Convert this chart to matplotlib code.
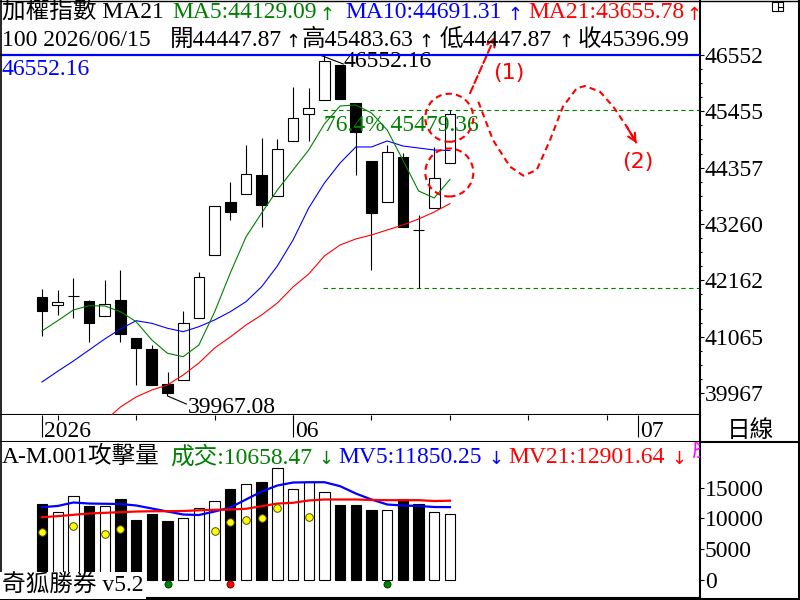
import matplotlib
matplotlib.use('Agg')
import matplotlib.pyplot as plt
from matplotlib.patches import Rectangle, Ellipse
from matplotlib.lines import Line2D

plt.rcParams['font.family'] = ['Liberation Serif', 'Noto Sans CJK TC']

GREEN = '#008000'
BLUE = '#0000ff'
RED = '#ff0000'

# daily candles (27 trading days, last = 2026/06/15)
opens = [41832, 41676, 41850, 41760, 41462, 41779, 41033, 40825, 40143, 40215,
         41429, 42656, 43683, 43838, 44209, 43805, 44877, 45397, 45675, 46351,
         45611, 44487, 43683, 44559, 43143, 43566, 44447.87]
highs = [41994, 41974, 42208, 41780, 42169, 42364, 41033, 40903, 40377, 41565,
         42319, 43611, 44072, 44799, 44929, 44916, 45923, 45903, 46552.16, 46351,
         45611, 44487, 44799, 44643, 43435, 44766, 45483.63]
lows = [41078, 41487, 41435, 40967, 41462, 40967, 40124, 40124, 39967.08, 40215,
        41429, 42656, 43332, 43838, 43207, 43805, 44877, 44877, 45675, 45689,
        44214, 42364, 43683, 43207, 42006.36, 43566, 44447.87]
closes = [41571, 41735, 41857, 41337, 41701, 41123, 40850, 40124, 39974, 41325,
          42222, 43611, 43499, 44228, 43624, 44715, 45319, 45525, 46441, 45689,
          45058, 43480, 44668, 43207, 43140, 44150, 45396.99]

ma5 = [41176, 41376, 41585, 41668, 41663, 41551, 41357, 41000, 40741, 40675,
       40903, 41546, 42305, 43007, 43474, 43922, 44312, 44701, 45208, 45559,
       45578, 45422, 45091, 44507, 43903, 43766, 44129.09]
ma10 = [40182, 40390, 40591, 40805, 41020, 41214, 41376, 41325, 41228, 41162,
        41259, 41390, 41551, 41746, 42038, 42442, 42948, 43572, 44059, 44448,
        44760, 44760, 44877, 44779, 44740, 44701, 44691.31]
ma21 = [38560, 38780, 39000, 39220, 39420, 39695, 39890, 40026, 40124, 40318,
        40552, 40844, 41059, 41292, 41487, 41721, 42033, 42286, 42637, 42851,
        42968, 43046, 43143, 43240, 43357, 43494, 43655.78]

volumes = [12440, 11090, 13750, 12000, 12100, 13100, 9820, 10800, 9660, 10000,
           11740, 12900, 14740, 15560, 15930, 18180, 14740, 16000, 14360, 12280,
           12280, 11300, 11460, 13260, 12440, 11130, 10658.47]
mv5 = [11840, 12040, 12610, 12440, 12400, 12360, 12120, 11630, 11130, 10640,
       10560, 11130, 11790, 13100, 14410, 15390, 15880, 15930, 15930, 15280,
       14080, 13100, 12280, 12120, 12040, 11870, 11850.25]
mv21 = [10200, 10370, 10590, 10810, 10920, 11020, 11130, 11180, 11180, 11220,
        11330, 11410, 11460, 11580, 12000, 12440, 12560, 12940, 13100, 13100,
        13100, 13020, 12990, 12990, 12990, 12850, 12901.64]

attack_idx = [0, 2, 4, 5, 11, 12, 13, 14, 15, 17]
attack_vals = [7750, 8730, 7530, 8240, 8020, 9380, 9820, 10040, 11680, 10270]
buy_idx = [8, 22]
sell_idx = [12]

price_ticks = [46552.16, 45454.65, 44357.13, 43259.62, 42162.11, 41064.59, 39967.08]
price_labels = ['46552', '45455', '44357', '43260', '42162', '41065', '39967']
vol_ticks = [0, 5000, 10000, 15000]

fib_high, fib_low, fib_764 = 46552.16, 42006.36, 45479.36
week_ticks = [1, 6, 11, 16, 21, 26, 31, 36]
month_pos = [0, 16, 38]
month_labels = ['2026', '06', '07']

# forecast sketch (index, price)
path1 = [(27.28, 45806), (28.87, 46908)]
path2 = [(27.81, 45642), (28.74, 44896), (29.83, 44376), (30.68, 44201),
         (31.53, 44312), (32.38, 44896), (33.20, 45545), (34.08, 45903),
         (34.61, 45948), (35.56, 45837), (36.41, 45545), (37.27, 45155),
         (37.90, 44832)]

W, H = 800, 600
FS = 17


def box(x0, y0, x1, y1):
    return [x0 / W, 1 - y1 / H, (x1 - x0) / W, (y1 - y0) / H]


def ftext(x, y, s, color='black', **kw):
    fig.text(x / W, 1 - y / H, s, color=color, fontsize=kw.pop('fontsize', FS),
             va=kw.pop('va', 'baseline'), ha=kw.pop('ha', 'left'), **kw)


def farrow(xc, y, s, color='black'):
    # thin full-height arrow like the terminal font, centred at xc
    ftext(xc, y + 1, s, color, fontsize=13, family='DejaVu Sans', ha='center')


def fline(xs, ys, lw=1.5):
    fig.add_artist(Line2D([x / W for x in xs], [1 - y / H for y in ys],
                          color='black', lw=lw, transform=fig.transFigure))


fig = plt.figure(figsize=(8, 6), dpi=100)
ax = fig.add_axes(box(0, 0, 700, 415))
axd = fig.add_axes(box(0, 415, 700, 442))
axv = fig.add_axes(box(0, 442, 700, 598))

xlim = (-2.677, 41.937)
idx = list(range(len(closes)))

# ---- price panel
for i in idx:
    o, h, l, c = opens[i], highs[i], lows[i], closes[i]
    ax.vlines(i, l, h, color='black', lw=0.8, zorder=2)
    fc = 'black' if c < o else 'white'
    ax.add_patch(Rectangle((i - 0.34, min(o, c)), 0.68, abs(c - o),
                           fc=fc, ec='black', lw=0.8, zorder=3))

ax.plot(idx, ma21, color=RED, lw=0.8, zorder=4)
ax.plot(idx, ma10, color=BLUE, lw=0.8, zorder=4)
ax.plot(idx, ma5, color=GREEN, lw=0.8, zorder=4)

ax.axhline(fib_high, color=BLUE, lw=1.6, zorder=5)
ax.hlines([fib_764, fib_low], 17.9, xlim[1], color=GREEN, lw=0.8,
          linestyle=(0, (4, 3)), zorder=1)
ax.text(-2.55, 46162, '46552.16', color=BLUE, fontsize=FS, va='baseline')
ax.text(17.97, 45077, '76.4% 45479.36', color=GREEN, fontsize=FS, va='baseline')
ax.plot([17.7, 19.2], [fib_high, 46377], color='black', lw=0.8)
ax.text(19.22, 46312, '%.2f' % fib_high, fontsize=FS, va='baseline')
ax.plot([8, 8, 9.2], [lows[8], 39909, 39753], color='black', lw=0.8)
ax.text(9.31, 39584, '%.2f' % lows[8], fontsize=FS, va='baseline')

# forecast marks
for cy in (45329, 44263):
    ax.add_patch(Ellipse((25.96, cy), 3.06, 935, fill=False, ec=RED, lw=1.5,
                         linestyle=(0, (3, 2)), zorder=6))
ax.annotate('', xy=path1[1], xytext=path1[0],
            arrowprops=dict(arrowstyle='->', color=RED, lw=1.5, linestyle='--',
                            mutation_scale=14, shrinkA=0, shrinkB=0))
ax.plot([p[0] for p in path2], [p[1] for p in path2], color=RED, lw=1.5,
        linestyle=(0, (3, 2)))
ax.annotate('', xy=path2[-1], xytext=path2[-2],
            arrowprops=dict(arrowstyle='->', color=RED, lw=1.5,
                            mutation_scale=14, shrinkA=0, shrinkB=0))
ax.text(29.76, 46201, '(1)', color=RED, fontsize=16, family='DejaVu Sans',
        ha='center', va='center')
ax.text(37.99, 44468, '(2)', color=RED, fontsize=16, family='DejaVu Sans',
        ha='center', va='center')

ax.set_xlim(*xlim)
ax.set_ylim(39539, 47623)
ax.set_xticks([])
ax.yaxis.tick_right()
ax.set_yticks(price_ticks, price_labels)
ax.set_yticks([price_ticks[0] - k * (price_ticks[0] - price_ticks[1]) / 4
               for k in range(25) if k % 4], minor=True)
ax.tick_params(axis='y', which='major', direction='out', length=3, width=0.8,
               pad=0.5, labelsize=FS)
ax.tick_params(axis='y', which='minor', direction='out', length=1.2, width=0.8)

# ---- date strip
axd.set_xlim(*xlim)
axd.set_ylim(0, 1)
axd.vlines(week_ticks, 0.8, 1, color='black', lw=0.8)
axd.vlines(month_pos, 0.2, 1, color='black', lw=0.8)
for p, lab in zip(month_pos, month_labels):
    axd.text(p + 0.15, 0.2, lab, fontsize=FS, va='baseline')
axd.set_xticks([])
axd.set_yticks([])

# ---- volume panel
vcolors = ['black' if closes[i] < opens[i] else 'white' for i in idx]
axv.bar(idx, volumes, width=0.66, color=vcolors, edgecolor='black', lw=0.8)
axv.plot(idx, mv5, color=BLUE, lw=1.6, zorder=4)
axv.plot(idx, mv21, color=RED, lw=1.6, zorder=4)
axv.scatter(attack_idx, attack_vals, s=30, c='#ffff00', edgecolors='#505000',
            lw=0.7, zorder=5)
axv.scatter(sell_idx, [-700] * len(sell_idx), s=26, c=RED, edgecolors='#600000',
            lw=0.6, zorder=5, clip_on=False)
axv.scatter(buy_idx, [-700] * len(buy_idx), s=26, c=GREEN, edgecolors='#003000',
            lw=0.6, zorder=5, clip_on=False)
axv.text(41.36, 20300, '股', color='#ff00ff', fontsize=FS, va='baseline',
         clip_on=True)
axv.set_xlim(*xlim)
axv.set_ylim(-3029, 22515)
axv.set_xticks([])
axv.yaxis.tick_right()
axv.set_yticks(vol_ticks, [str(v) for v in vol_ticks])
axv.tick_params(axis='y', direction='out', length=3, width=0.8, pad=0.5,
                labelsize=FS)

for a in (ax, axd, axv):
    a.spines['left'].set_visible(False)
    a.spines['top'].set_visible(False)
    a.spines['right'].set_linewidth(1.5)
    a.spines['bottom'].set_linewidth(1.5)

# ---- headers
ftext(2, 18.5, '加權指數 MA21')
ftext(172, 18.5, 'MA5:%.2f' % ma5[-1], GREEN)
farrow(327, 18.5, '↑', GREEN)
ftext(345, 18.5, 'MA10:%.2f' % ma10[-1], BLUE)
farrow(515, 18.5, '↑', BLUE)
ftext(528, 18.5, 'MA21:%.2f' % ma21[-1], RED)
farrow(694, 18.5, '↑', RED)

ftext(2, 45.7, '100 2026/06/15')
ftext(170, 45.7, '開%.2f' % opens[-1])
farrow(293, 45.7, '↑')
ftext(302, 45.7, '高%.2f' % highs[-1])
farrow(426, 45.7, '↑')
ftext(440, 45.7, '低%.2f' % lows[-1])
farrow(566, 45.7, '↑')
ftext(578, 45.7, '收%.2f' % closes[-1])

ftext(2, 463.3, 'A-M.001攻擊量')
ftext(170, 463.3, '成交:%.2f' % volumes[-1], GREEN)
farrow(326, 463.3, '↓', GREEN)
ftext(338, 463.3, 'MV5:%.2f' % mv5[-1], BLUE)
farrow(496, 463.3, '↓', BLUE)
ftext(508, 463.3, 'MV21:%.2f' % mv21[-1], RED)
farrow(679, 463.3, '↓', RED)

ftext(2, 591.7, '奇狐勝券 v5.2', zorder=10,
      bbox=dict(fc='white', ec='none', pad=1.5))
ftext(750, 437, '日線', ha='center')

# ---- frame
fline([0.5, 0.5], [0, 600], lw=1.2)
fline([0, 800], [0.5, 0.5], lw=1.0)
fline([799, 799], [0, 600], lw=2.2)
fline([0, 800], [599, 599], lw=2.2)
fline([700, 800], [442, 442])
fig.add_artist(Rectangle((772 / W, 1 - 11 / H), 11 / W, 9 / H, fill=False,
                         ec='black', lw=0.8, transform=fig.transFigure))
fline([778, 778], [2, 11], lw=0.8)
fline([778, 783], [6.5, 6.5], lw=0.8)

fig.savefig('out.png', dpi=100)
